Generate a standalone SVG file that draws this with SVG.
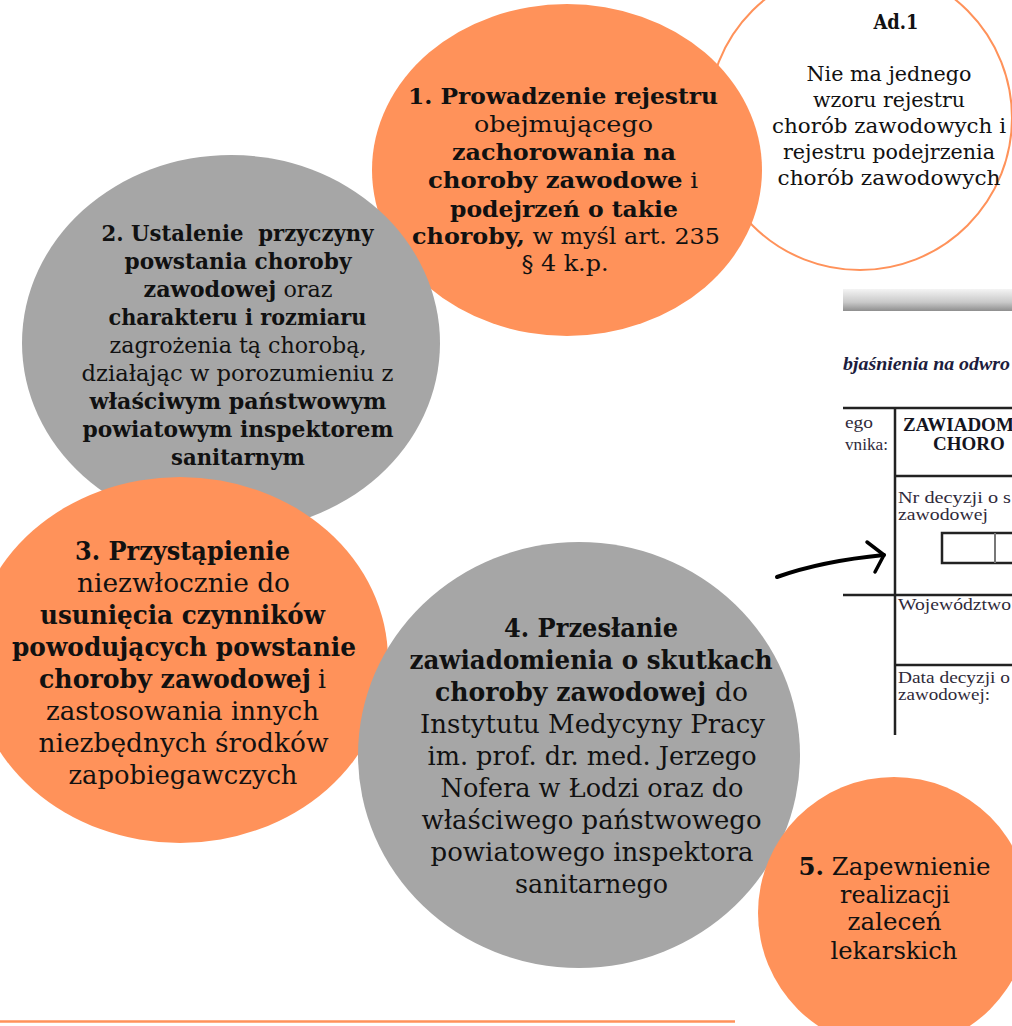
<svg xmlns="http://www.w3.org/2000/svg" width="1012" height="1026" viewBox="0 0 1012 1026">
<style>
.o{fill:#FF925A}
.g{fill:#A6A6A6}
text{font-family:"DejaVu Serif","Liberation Serif",serif;fill:#111;text-anchor:middle}
.st{text-anchor:start}
.b{font-weight:bold}
.s20{font-size:21px}
.s22{font-size:22px}
.s23{font-size:23px}
.s24{font-size:24px}
.s26{font-size:26px}
.doc{font-family:"Liberation Serif",serif;text-anchor:start;fill:#2f2a3a;font-size:17px}
.docb{font-family:"Liberation Serif",serif;text-anchor:start;fill:#15151f;font-size:19px;font-weight:bold}
.ln{stroke:#222;stroke-width:2.5;fill:none}
</style>
<defs>
<linearGradient id="bar" x1="0" y1="0" x2="0" y2="1">
<stop offset="0" stop-color="#f4f4f4"/>
<stop offset="0.6" stop-color="#c9c9c9"/>
<stop offset="1" stop-color="#8e8e8e"/>
</linearGradient>
</defs>
<rect width="1012" height="1026" fill="#fff"/>

<g id="document">
<rect x="843" y="289" width="169" height="22" fill="url(#bar)"/>
<text class="docb" x="843" y="370" font-style="italic" textLength="167" lengthAdjust="spacingAndGlyphs" style="font-size:19px;fill:#1d1d3d">bjaśnienia na odwro</text>
<line class="ln" x1="843" y1="408" x2="1012" y2="408"/>
<line class="ln" x1="895" y1="408" x2="895" y2="735"/>
<line class="ln" x1="895" y1="476" x2="1012" y2="476"/>
<line class="ln" x1="843" y1="595" x2="1012" y2="595"/>
<line class="ln" x1="895" y1="665" x2="1012" y2="665"/>
<rect class="ln" x="942" y="533" width="90" height="30"/>
<line x1="995" y1="533" x2="995" y2="563" stroke="#777" stroke-width="2"/>
<text class="doc" x="845" y="428" textLength="28" lengthAdjust="spacingAndGlyphs">ego</text>
<text class="doc" x="845" y="450" textLength="43" lengthAdjust="spacingAndGlyphs">vnika:</text>
<text class="docb" x="903" y="431">ZAWIADOM</text>
<text class="docb" x="933" y="450">CHORO</text>
<text class="doc" x="898" y="503" textLength="113" lengthAdjust="spacingAndGlyphs">Nr decyzji o s</text>
<text class="doc" x="898" y="520" textLength="90" lengthAdjust="spacingAndGlyphs">zawodowej</text>
<text class="doc" x="898" y="610" textLength="113" lengthAdjust="spacingAndGlyphs">Województwo</text>
<text class="doc" x="898" y="683" textLength="112" lengthAdjust="spacingAndGlyphs">Data decyzji o</text>
<text class="doc" x="898" y="700" textLength="92" lengthAdjust="spacingAndGlyphs">zawodowej:</text>
</g>

<g id="node-ad1">
<circle cx="860" cy="118" r="152" fill="#fff" stroke="#FF925A" stroke-width="2"/>
<text class="s20 b" x="896" y="29" textLength="45" lengthAdjust="spacingAndGlyphs">Ad.1</text>
<text class="s20" x="889" y="81" textLength="165" lengthAdjust="spacingAndGlyphs">Nie ma jednego</text>
<text class="s20" x="889" y="107" textLength="152" lengthAdjust="spacingAndGlyphs">wzoru rejestru</text>
<text class="s20" x="889" y="133" textLength="234" lengthAdjust="spacingAndGlyphs">chorób zawodowych i</text>
<text class="s20" x="889" y="159" textLength="212" lengthAdjust="spacingAndGlyphs">rejestru podejrzenia</text>
<text class="s20" x="889" y="184.5" textLength="223" lengthAdjust="spacingAndGlyphs">chorób zawodowych</text>
</g>

<g id="node-1">
<ellipse class="o" cx="567" cy="170" rx="195" ry="166"/>
</g>

<g id="node-2">
<ellipse class="g" cx="231" cy="343" rx="209" ry="188"/>
<text class="s22 b" x="237.5" y="240.5" textLength="272" lengthAdjust="spacingAndGlyphs" xml:space="preserve">2. Ustalenie  przyczyny</text>
<text class="s22 b" x="238" y="269" textLength="227" lengthAdjust="spacingAndGlyphs">powstania choroby</text>
<text class="s22" x="238" y="297" textLength="189" lengthAdjust="spacingAndGlyphs"><tspan class="b">zawodowej</tspan> oraz</text>
<text class="s22 b" x="237.5" y="325" textLength="258" lengthAdjust="spacingAndGlyphs">charakteru i rozmiaru</text>
<text class="s22" x="238" y="353" textLength="257" lengthAdjust="spacingAndGlyphs">zagrożenia tą chorobą,</text>
<text class="s22" x="237.5" y="381" textLength="312" lengthAdjust="spacingAndGlyphs">działając w porozumieniu z</text>
<text class="s22 b" x="238" y="408.5" textLength="297" lengthAdjust="spacingAndGlyphs">właściwym państwowym</text>
<text class="s22 b" x="238" y="437" textLength="311" lengthAdjust="spacingAndGlyphs">powiatowym inspektorem</text>
<text class="s22 b" x="238" y="465" textLength="134" lengthAdjust="spacingAndGlyphs">sanitarnym</text>
</g>

<g id="node-1-text">
<text class="s23 b" x="563" y="104" textLength="310" lengthAdjust="spacingAndGlyphs">1. Prowadzenie rejestru</text>
<text class="s23" x="563.5" y="132" textLength="179" lengthAdjust="spacingAndGlyphs">obejmującego</text>
<text class="s23 b" x="564" y="160" textLength="224" lengthAdjust="spacingAndGlyphs">zachorowania na</text>
<text class="s23" x="563" y="188" textLength="270" lengthAdjust="spacingAndGlyphs"><tspan class="b">choroby zawodowe</tspan> i</text>
<text class="s23 b" x="564" y="216.5" textLength="228" lengthAdjust="spacingAndGlyphs">podejrzeń o takie</text>
<text class="s23" x="566" y="244" textLength="308" lengthAdjust="spacingAndGlyphs"><tspan class="b">choroby,</tspan> w myśl art. 235</text>
<text class="s23" x="565" y="271" textLength="87" lengthAdjust="spacingAndGlyphs">§ 4 k.p.</text>
</g>

<g id="node-3">
<ellipse class="o" cx="180" cy="660" rx="208" ry="183"/>
<text class="s26 b" x="182.5" y="560" textLength="215" lengthAdjust="spacingAndGlyphs">3. Przystąpienie</text>
<text class="s26" x="183.5" y="592" textLength="213" lengthAdjust="spacingAndGlyphs">niezwłocznie do</text>
<text class="s26 b" x="182.5" y="624" textLength="285" lengthAdjust="spacingAndGlyphs">usunięcia czynników</text>
<text class="s26 b" x="184" y="656" textLength="344" lengthAdjust="spacingAndGlyphs">powodujących powstanie</text>
<text class="s26 b st" x="39" y="688" textLength="272" lengthAdjust="spacingAndGlyphs">choroby zawodowej</text>
<text class="s26 st" x="318" y="688" textLength="8" lengthAdjust="spacingAndGlyphs">i</text>
<text class="s26" x="182.5" y="720" textLength="273" lengthAdjust="spacingAndGlyphs">zastosowania innych</text>
<text class="s26" x="183.5" y="752" textLength="290" lengthAdjust="spacingAndGlyphs">niezbędnych środków</text>
<text class="s26" x="183" y="784" textLength="229" lengthAdjust="spacingAndGlyphs">zapobiegawczych</text>
</g>

<g id="node-4">
<ellipse class="g" cx="579" cy="755" rx="221" ry="213"/>
<text class="s26 b" x="591" y="637" textLength="174" lengthAdjust="spacingAndGlyphs">4. Przesłanie</text>
<text class="s26 b" x="591" y="668.5" textLength="363" lengthAdjust="spacingAndGlyphs">zawiadomienia o skutkach</text>
<text class="s26 b st" x="435" y="701" textLength="271" lengthAdjust="spacingAndGlyphs">choroby zawodowej</text>
<text class="s26 st" x="715" y="701" textLength="33" lengthAdjust="spacingAndGlyphs">do</text>
<text class="s26" x="592.5" y="733" textLength="345" lengthAdjust="spacingAndGlyphs">Instytutu Medycyny Pracy</text>
<text class="s26" x="592" y="765" textLength="329" lengthAdjust="spacingAndGlyphs">im. prof. dr. med. Jerzego</text>
<text class="s26" x="592" y="797" textLength="303" lengthAdjust="spacingAndGlyphs">Nofera w Łodzi oraz do</text>
<text class="s26" x="591.5" y="828.5" textLength="340" lengthAdjust="spacingAndGlyphs">właściwego państwowego</text>
<text class="s26" x="592" y="861" textLength="323" lengthAdjust="spacingAndGlyphs">powiatowego inspektora</text>
<text class="s26" x="591.5" y="893" textLength="153" lengthAdjust="spacingAndGlyphs">sanitarnego</text>
</g>

<g id="node-5">
<circle class="o" cx="894" cy="913" r="136"/>
<text class="s24" x="894.5" y="875" textLength="192" lengthAdjust="spacingAndGlyphs"><tspan class="b">5.</tspan> Zapewnienie</text>
<text class="s24" x="895" y="903" textLength="110" lengthAdjust="spacingAndGlyphs">realizacji</text>
<text class="s24" x="894.5" y="930" textLength="94" lengthAdjust="spacingAndGlyphs">zaleceń</text>
<text class="s24" x="894" y="958.5" textLength="127" lengthAdjust="spacingAndGlyphs">lekarskich</text>
</g>

<g id="connectors">
<path d="M777,577 Q822,561 884,555" fill="none" stroke="#000" stroke-width="4" stroke-linecap="round"/>
<path d="M867,542 L884,555 L875,572" fill="none" stroke="#000" stroke-width="3.5" stroke-linecap="round" stroke-linejoin="round"/>
</g>

<line x1="0" y1="1021.5" x2="735" y2="1021.5" stroke="#FF925A" stroke-width="2.5"/>
</svg>
